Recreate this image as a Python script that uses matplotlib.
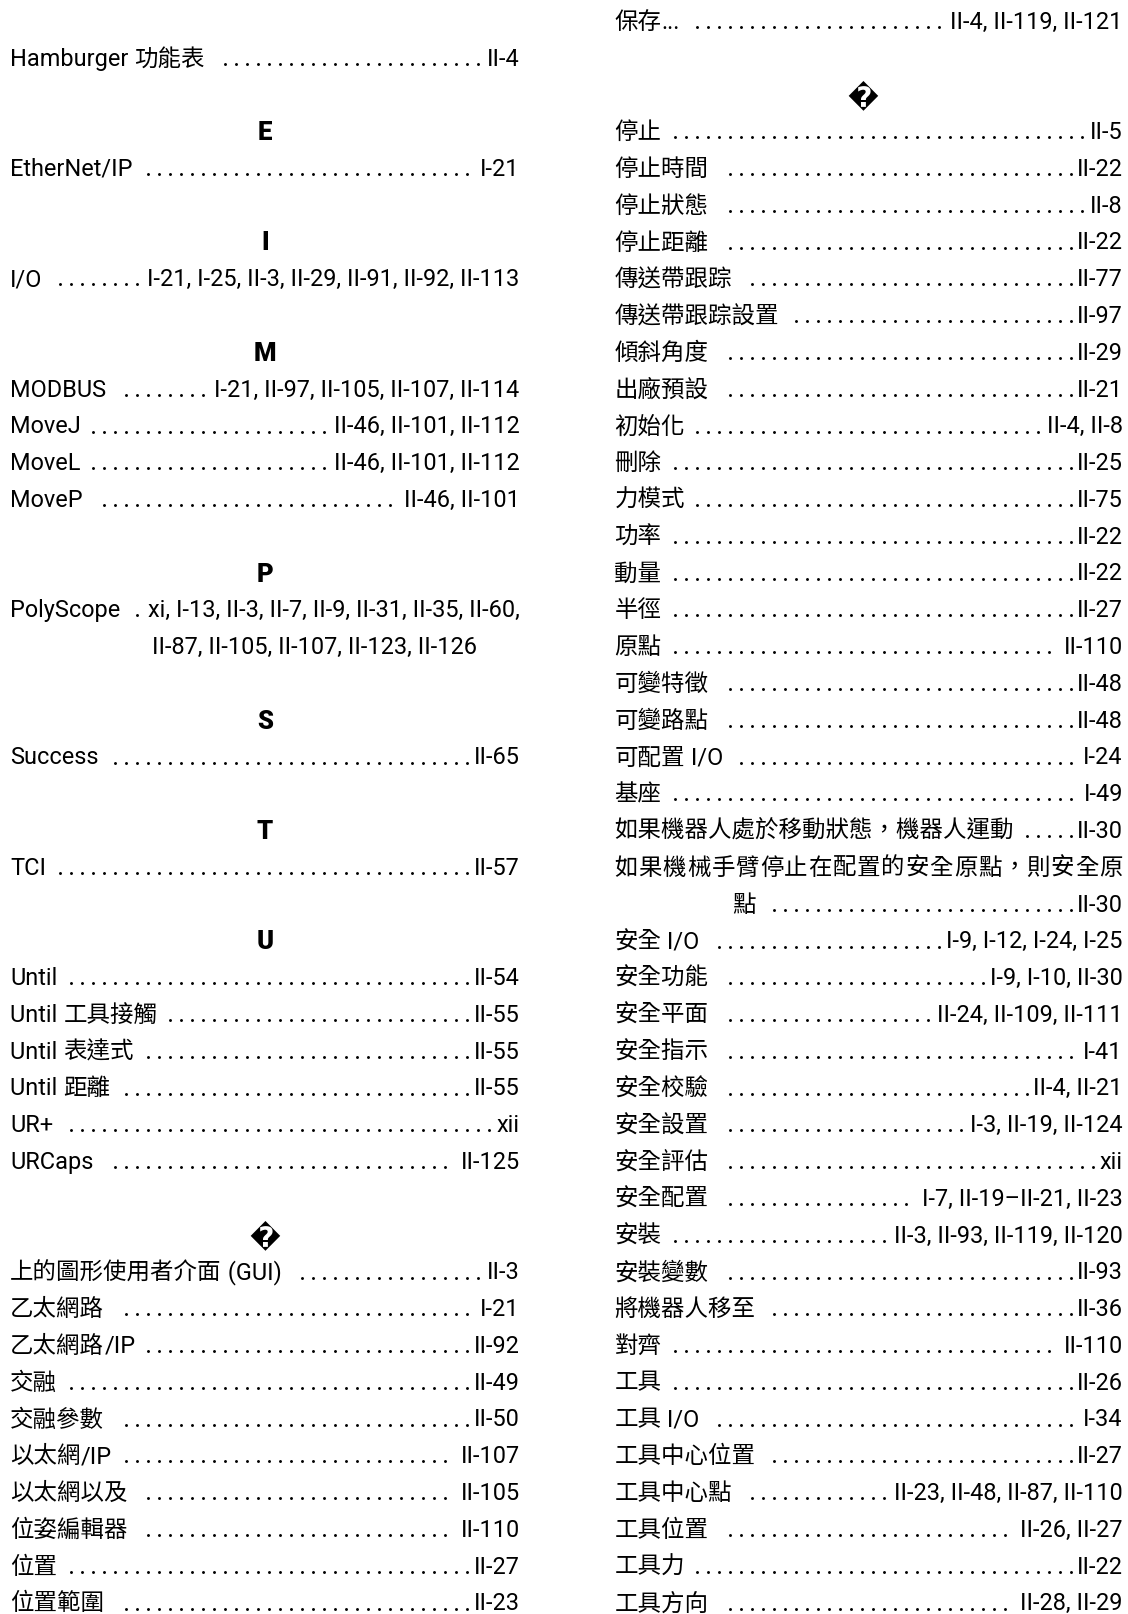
import matplotlib
matplotlib.use("Agg")
import matplotlib.pyplot as plt

plt.rcParams['font.family'] = ['Roboto', 'Noto Sans CJK TC', 'DejaVu Sans']

# ---------------- data ----------------
CONT_TERMS = ["Hamburger 功能表"]
CONT_PAGES = ["II-4"]

HDR_E = "E"
E_TERMS = ["EtherNet/IP"]
E_PAGES = ["I-21"]

HDR_I = "I"
I_TERMS = ["I/O"]
I_PAGES = ["I-21, I-25, II-3, II-29, II-91, II-92, II-113"]

HDR_M = "M"
M_TERMS = ["MODBUS", "MoveJ", "MoveL", "MoveP"]
M_PAGES = ["I-21, II-97, II-105, II-107, II-114",
           "II-46, II-101, II-112",
           "II-46, II-101, II-112",
           "II-46, II-101"]

HDR_P = "P"
P_TERMS = ["PolyScope"]
P_PAGES = ["xi, I-13, II-3, II-7, II-9, II-31, II-35, II-60,\nII-87, II-105, II-107, II-123, II-126"]

HDR_S = "S"
S_TERMS = ["Success"]
S_PAGES = ["II-65"]

HDR_T = "T"
T_TERMS = ["TCI"]
T_PAGES = ["II-57"]

HDR_U = "U"
U_TERMS = ["Until", "Until 工具接觸", "Until 表達式", "Until 距離", "UR+", "URCaps"]
U_PAGES = ["II-54", "II-55", "II-55", "II-55", "xii", "II-125"]

HDR_CJK = "\ufffd"
CJK1_TERMS = ["上的圖形使用者介面 (GUI)", "乙太網路", "乙太網路/IP", "交融", "交融參數",
              "以太網/IP", "以太網以及", "位姿編輯器", "位置", "位置範圍"]
CJK1_PAGES = ["II-3", "I-21", "II-92", "II-49", "II-50",
              "II-107", "II-105", "II-110", "II-27", "II-23"]

SAVE_TERMS = ["保存..."]
SAVE_PAGES = ["II-4, II-119, II-121"]

CJK2_TERMS = ["停止", "停止時間", "停止狀態", "停止距離", "傳送帶跟踪", "傳送帶跟踪設置",
              "傾斜角度", "出廠預設", "初始化", "刪除", "力模式", "功率", "動量", "半徑",
              "原點", "可變特徵", "可變路點", "可配置 I/O", "基座",
              "如果機器人處於移動狀態，機器人運動",
              "如果機械手臂停止在配置的安全原點，則安全原\n點",
              "安全 I/O", "安全功能", "安全平面", "安全指示", "安全校驗", "安全設置",
              "安全評估", "安全配置", "安裝", "安裝變數", "將機器人移至", "對齊", "工具",
              "工具 I/O", "工具中心位置", "工具中心點", "工具位置", "工具力", "工具方向"]
CJK2_PAGES = ["II-5", "II-22", "II-8", "II-22", "II-77", "II-97",
              "II-29", "II-21", "II-4, II-8", "II-25", "II-75", "II-22", "II-22", "II-27",
              "II-110", "II-48", "II-48", "I-24", "I-49",
              "II-30",
              "II-30",
              "I-9, I-12, I-24, I-25", "I-9, I-10, II-30", "II-24, II-109, II-111", "I-41",
              "II-4, II-21", "I-3, II-19, II-124",
              "xii", "I-7, II-19–II-21, II-23", "II-3, II-93, II-119, II-120", "II-93",
              "II-36", "II-110", "II-26",
              "I-34", "II-27", "II-23, II-48, II-87, II-110", "II-26, II-27", "II-22",
              "II-28, II-29"]

# ---------------- layout ----------------
W, H = 1128, 1614
fig = plt.figure(figsize=(W / 100, H / 100), dpi=100)
ax = fig.add_axes([0, 0, 1, 1])
ax.set_xlim(0, W)
ax.set_ylim(H, 0)
ax.axis("off")
renderer = fig.canvas.get_renderer()

COLS = [(10.3, 519.7), (614.4, 1122.8)]
HDR_DX = [0.0, -6.0]
LINE0, LINE_H, BASE_OFF = 20.8, 36.78, 8.0
FS_LAT, FS_CJK, HFS, DFS = 16.9, 16.9, 18.5, 20.0
PITCH, SPACE = 11.0, 6.0
HANG_TERM, HANG_PAGES = 118.0, 142.0
LAT_STYLE = dict(family=['Roboto', 'DejaVu Sans'], fontsize=FS_LAT)
CJK_STYLE = dict(family=['Noto Sans CJK TC', 'DejaVu Sans'], fontsize=FS_CJK,
                 fontweight='light')

dots_x, dots_y = [], []


def line_c(n):
    return LINE0 + n * LINE_H


def wid(t):
    return t.get_window_extent(renderer).width


def is_cjk(ch):
    return ord(ch) >= 0x2E80


def runs(s):
    out = []
    for ch in s:
        c = is_cjk(ch)
        if out and out[-1][0] == c:
            out[-1][1] += ch
        else:
            out.append([c, ch])
    return out


def put_text(x, yb, s):
    """Left-aligned mixed CJK/Latin text; returns end x."""
    for c, seg in runs(s):
        t = ax.text(x, yb, seg, va="baseline", ha="left",
                    **(CJK_STYLE if c else LAT_STYLE))
        x += wid(t)
    return x


def put_dots(x0, a, b, yb):
    k = 0
    while True:
        cx = x0 + (k + 0.5) * PITCH
        if cx + PITCH / 2 > b:
            break
        if cx - PITCH / 2 >= a:
            dots_x.append(cx)
            dots_y.append(yb - 1.8)
        k += 1


def draw_entry(x0, x1, n, term, pages):
    tlines = term.split("\n")
    plines = pages.split("\n")
    used = 0
    # justified leading label lines
    for tl in tlines[:-1]:
        yb = line_c(n + used) + BASE_OFF
        objs = [ax.text(0, yb, ch, va="baseline", ha="left",
                        **(CJK_STYLE if is_cjk(ch) else LAT_STYLE)) for ch in tl]
        ws = [wid(o) for o in objs]
        extra = ((x1 - x0) - sum(ws)) / max(len(ws) - 1, 1)
        x = x0
        for o, w in zip(objs, ws):
            o.set_x(x)
            x += w + extra
        used += 1
    xs = x0 + (HANG_TERM if len(tlines) > 1 else 0)
    yb = line_c(n + used) + BASE_OFF
    tend = put_text(xs, yb, tlines[-1])
    p = ax.text(x1, yb, plines[0], va="baseline", ha="right", **LAT_STYLE)
    pstart = x1 - wid(p)
    put_dots(x0, tend + SPACE, pstart, yb)
    used += 1
    for pl in plines[1:]:
        yb = line_c(n + used) + BASE_OFF
        ax.text(x0 + HANG_PAGES, yb, pl, va="baseline", ha="left", **LAT_STYLE)
        used += 1
    return used


def draw_column(col, start, blocks):
    x0, x1 = COLS[col]
    n = start
    for hdr, terms, pages in blocks:
        if hdr is not None:
            n += 1
            cx = (x0 + x1) / 2 + HDR_DX[col]
            if hdr == "\ufffd":
                ax.text(cx, line_c(n) + 2.5, hdr, fontsize=DFS, ha="center", va="center",
                        family="DejaVu Sans", fontweight="bold")
            else:
                ax.text((x0 + x1) / 2, line_c(n) + 9, hdr, fontsize=HFS, ha="center",
                        va="baseline", family=['Roboto', 'DejaVu Sans'], fontweight="black")
            n += 1
        for term, pg in zip(terms, pages):
            n += draw_entry(x0, x1, n, term, pg)


draw_column(0, 1, [
    (None, CONT_TERMS, CONT_PAGES),
    (HDR_E, E_TERMS, E_PAGES),
    (HDR_I, I_TERMS, I_PAGES),
    (HDR_M, M_TERMS, M_PAGES),
    (HDR_P, P_TERMS, P_PAGES),
    (HDR_S, S_TERMS, S_PAGES),
    (HDR_T, T_TERMS, T_PAGES),
    (HDR_U, U_TERMS, U_PAGES),
    (HDR_CJK, CJK1_TERMS, CJK1_PAGES),
])
draw_column(1, 0, [
    (None, SAVE_TERMS, SAVE_PAGES),
    (HDR_CJK, CJK2_TERMS, CJK2_PAGES),
])

ax.scatter(dots_x, dots_y, s=4.4, c="black", marker="o", linewidths=0)

fig.savefig("out.png", dpi=100, facecolor="white")
